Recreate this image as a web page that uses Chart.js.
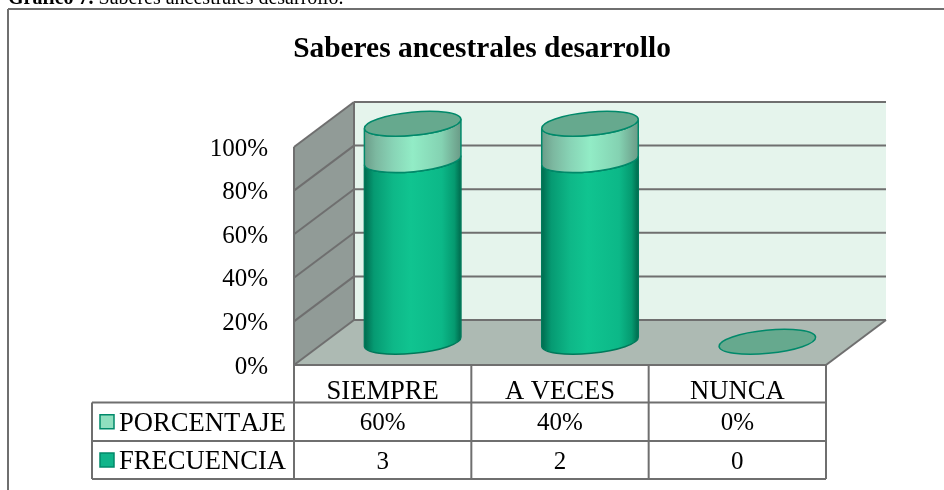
<!DOCTYPE html>
<html>
<head>
<meta charset="utf-8">
<title>Saberes ancestrales desarrollo</title>
<style>
  html, body { margin: 0; padding: 0; background: #fff; overflow: hidden; }
  #wrap { position: relative; width: 944px; height: 490px; }
</style>
</head>
<body>
<div id="wrap"><canvas id="chart" width="944" height="490"></canvas></div>
<script src="https://cdn.jsdelivr.net/npm/chart.js@4/dist/chart.umd.min.js"></script>
<script>
const categories = ["SIEMPRE", "A VECES", "NUNCA"];
const frecuencia = [3, 2, 0];
const porcentaje = [60, 40, 0];
const yTicks = [0, 20, 40, 60, 80, 100];

const SERIF = '"Liberation Serif", serif';
const LINE = "#6f6f6f";
const DEPTH_X = 60;
const DEPTH_Y = -45;

// both series are stacked to 100% of their sum, as the original does
const total = (i) => frecuencia[i] + porcentaje[i] / 100;
const shareOf = (v, i) => (total(i) === 0 ? 0 : (v / total(i)) * 100);
const frecShare = frecuencia.map((v, i) => shareOf(v, i));
const porcShare = porcentaje.map((v, i) => shareOf(v / 100, i));

const line = (ctx, x1, y1, x2, y2, w) => {
    ctx.lineWidth = w || 2;
    ctx.strokeStyle = LINE;
    ctx.beginPath();
    ctx.moveTo(x1, y1);
    ctx.lineTo(x2, y2);
    ctx.stroke();
};

const poly = (ctx, pts, fill) => {
    ctx.fillStyle = fill;
    ctx.beginPath();
    pts.forEach((p, i) => (i ? ctx.lineTo(p[0], p[1]) : ctx.moveTo(p[0], p[1])));
    ctx.closePath();
    ctx.fill();
};

const framePlugin = {
    id: "frame",
    beforeDatasetsDraw(chart) {
        const { ctx, chartArea: a, scales } = chart;
        const y = scales.y;
        const dx = DEPTH_X;
        const dy = DEPTH_Y;
        ctx.save();

        // page caption and chart box
        ctx.fillStyle = "#000";
        ctx.textBaseline = "alphabetic";
        ctx.textAlign = "left";
        ctx.font = "bold 20px " + SERIF;
        ctx.fillText("Gráfico 7.", 8, 4);
        const w = ctx.measureText("Gráfico 7. ").width;
        ctx.font = "20px " + SERIF;
        ctx.fillText("Saberes ancestrales desarrollo.", 8 + w, 4);
        line(ctx, 8, 9, 944, 9);
        line(ctx, 8, 9, 8, 490);

        ctx.fillStyle = "#000";
        ctx.textAlign = "center";
        ctx.textBaseline = "middle";
        ctx.font = "bold 29.4px " + SERIF;
        ctx.fillText("Saberes ancestrales desarrollo", 482, 49);

        // walls and floor
        poly(ctx, [[a.left + dx, a.top + dy], [a.right + dx, a.top + dy], [a.right + dx, a.bottom + dy], [a.left + dx, a.bottom + dy]], "#e5f4ec");
        poly(ctx, [[a.left, a.top], [a.left + dx, a.top + dy], [a.left + dx, a.bottom + dy], [a.left, a.bottom]], "#919b97");
        poly(ctx, [[a.left, a.bottom], [a.left + dx, a.bottom + dy], [a.right + dx, a.bottom + dy], [a.right, a.bottom]], "#adbab3");

        // gridlines go round the side wall and along the back
        y.ticks.forEach((t) => {
            const py = y.getPixelForValue(t.value);
            line(ctx, a.left, py, a.left + dx, py + dy);
            line(ctx, a.left + dx, py + dy, a.right + dx, py + dy);
        });
        line(ctx, a.left, a.top, a.left, a.bottom);
        line(ctx, a.left + dx, a.top + dy, a.left + dx, a.bottom + dy);
        line(ctx, a.right, a.bottom, a.right + dx, a.bottom + dy);
        line(ctx, a.left, a.bottom, a.right, a.bottom);
        ctx.restore();
    },
    afterDatasetsDraw(chart) {
        const { ctx } = chart;
        const metas = [chart.getDatasetMeta(0), chart.getDatasetMeta(1)];
        const sets = chart.data.datasets;
        const ox = DEPTH_X / 2;
        const oy = DEPTH_Y / 2 - 0.7;
        const ry = 11.6;
        const rot = -5.5 * Math.PI / 180;

        ctx.save();
        metas[0].data.forEach((_, i) => {
            metas.forEach((meta, m) => {
                const bar = meta.data[i];
                const cx = bar.x + ox;
                const rx = bar.width / 2;
                const top = bar.y + oy;
                const base = bar.base + oy;
                if (Math.abs(base - top) < 0.5) return;

                const g = ctx.createLinearGradient(cx - rx, 0, cx + rx, 0);
                sets[m].sideStops.forEach((s) => g.addColorStop(s[0], s[1]));
                ctx.beginPath();
                ctx.ellipse(cx, base, rx, ry, rot, 0, Math.PI);
                ctx.ellipse(cx, top, rx, ry, rot, Math.PI, 0, true);
                ctx.closePath();
                ctx.fillStyle = g;
                ctx.fill();
                ctx.strokeStyle = sets[m].edge;
                ctx.lineWidth = 1.5;
                ctx.stroke();
            });

            // cap on top of the stack, also shown alone when the value is 0
            const last = metas[1].data[i];
            ctx.beginPath();
            ctx.ellipse(last.x + ox, last.y + oy, last.width / 2, ry, rot, 0, Math.PI * 2);
            ctx.fillStyle = "#66a98e";
            ctx.fill();
            ctx.strokeStyle = "#00896a";
            ctx.lineWidth = 1.5;
            ctx.stroke();
        });
        ctx.restore();

        drawTable(chart);
    },
};

function drawTable(chart) {
    const { ctx, chartArea: a, scales } = chart;
    const x = scales.x;
    const rows = [402.5, 441, 479];
    const left = 92;
    const colEdges = categories.map((_, i) => (i === 0 ? a.left : x.getPixelForValue(i) - x.width / categories.length / 2));
    colEdges.push(a.right);

    ctx.save();
    colEdges.forEach((cx) => line(ctx, cx, a.bottom, cx, rows[2]));
    rows.forEach((ry) => line(ctx, left, ry, a.right, ry));
    line(ctx, left, rows[0], left, rows[2]);

    const series = [
        { label: "PORCENTAJE", fill: "#8fdfbf", edge: "#00896a", cells: porcentaje.map((v) => v + "%") },
        { label: "FRECUENCIA", fill: "#10b48a", edge: "#00896a", cells: frecuencia.map(String) },
    ];
    ctx.textBaseline = "middle";
    ctx.fontKerning = "none";
    series.forEach((s, r) => {
        const mid = (rows[r] + rows[r + 1]) / 2 + 2;
        ctx.fillStyle = s.fill;
        ctx.strokeStyle = s.edge;
        ctx.lineWidth = 1.5;
        ctx.fillRect(100, mid - 9, 14, 14);
        ctx.strokeRect(100, mid - 9, 14, 14);
        ctx.fillStyle = "#000";
        ctx.textAlign = "left";
        ctx.font = "26.6px " + SERIF;
        ctx.fillText(s.label, 119, mid);
        ctx.textAlign = "center";
        ctx.font = "25px " + SERIF;
        s.cells.forEach((c, i) => ctx.fillText(c, x.getPixelForValue(i), mid));
    });
    ctx.restore();
}

new Chart(document.getElementById("chart"), {
    type: "bar",
    data: {
        labels: categories,
        datasets: [
            {
                label: "FRECUENCIA",
                data: frecShare,
                backgroundColor: "transparent",
                barPercentage: 0.547,
                categoryPercentage: 1,
                sideStops: [[0, "#006a4e"], [0.1, "#069a72"], [0.3, "#0eb888"], [0.48, "#10c490"], [0.8, "#0cb888"], [0.93, "#059a70"], [1, "#00684c"]],
                edge: "#00795a",
            },
            {
                label: "PORCENTAJE",
                data: porcShare,
                backgroundColor: "transparent",
                barPercentage: 0.547,
                categoryPercentage: 1,
                sideStops: [[0, "#6a9c88"], [0.12, "#7cb8a0"], [0.3, "#88d4b6"], [0.5, "#92ecc6"], [0.8, "#84d2b2"], [1, "#6a9a86"]],
                edge: "#00896a",
            },
        ],
    },
    options: {
        responsive: false,
        animation: false,
        layout: { padding: { top: 147, right: 118, bottom: 0, left: 0 } },
        plugins: { legend: { display: false }, title: { display: false }, tooltip: { enabled: false } },
        scales: {
            x: {
                stacked: true,
                grid: { display: false },
                border: { display: false },
                ticks: { color: "#000", padding: 3, maxRotation: 0, font: { family: SERIF, size: 26.6 } },
                afterFit(scale) { scale.height = 125; },
            },
            y: {
                stacked: true,
                min: yTicks[0],
                max: yTicks[yTicks.length - 1],
                afterBuildTicks(scale) { scale.ticks = yTicks.map((value) => ({ value })); },
                grid: { display: false },
                border: { display: false },
                ticks: { color: "#000", padding: 18, labelOffset: 2, font: { family: SERIF, size: 25 }, callback: (v) => v + "%" },
                afterFit(scale) { scale.width = 294; },
            },
        },
    },
    plugins: [framePlugin],
});
</script>
</body>
</html>
